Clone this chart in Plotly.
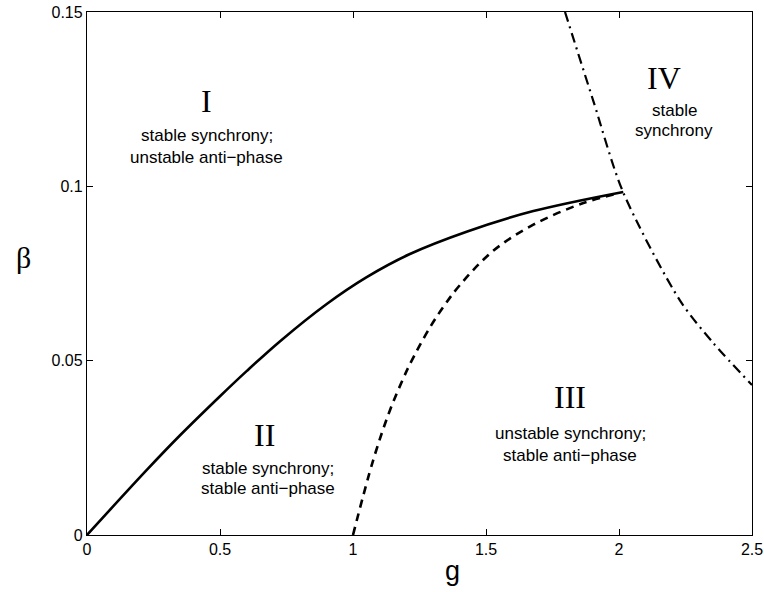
import plotly.graph_objects as go

# Boundary curves (g, beta)
solid_g = [0, 0.224, 0.35, 0.5, 0.6, 0.726, 0.9, 1.05, 1.214, 1.427, 1.678, 2.016]
solid_b = [0, 0.0186, 0.0286, 0.0398, 0.0470, 0.0556, 0.0662, 0.0739, 0.0806, 0.0870, 0.0929, 0.0984]

dashed_g = [1.0, 1.076, 1.139, 1.189, 1.214, 1.289, 1.346, 1.402, 1.527, 1.678, 1.866, 2.0]
dashed_b = [0, 0.0215, 0.0358, 0.0449, 0.0490, 0.0595, 0.0661, 0.0717, 0.0815, 0.0890, 0.0952, 0.098]

dashdot_g = [1.797, 1.903, 2.015, 2.229, 2.355, 2.5]
dashdot_b = [0.150, 0.1246, 0.0984, 0.0673, 0.055, 0.043]

x_ticks = [0, 0.5, 1, 1.5, 2, 2.5]
x_tick_labels = ["0", "0.5", "1", "1.5", "2", "2.5"]
y_ticks = [0, 0.05, 0.1, 0.15]
y_tick_labels = ["0", "0.05", "0.1", "0.15"]

region_names = ["I", "II", "III", "IV"]
region_g = [0.45, 0.669, 1.816, 2.17]
region_b = [0.1246, 0.0287, 0.0395, 0.1312]
region_text_g = [0.45, 0.68, 1.816, 2.207]
region_line1 = ["stable synchrony;", "stable synchrony;", "unstable synchrony;", "stable"]
region_line1_b = [0.1146, 0.0192, 0.0292, 0.1218]
region_line2 = ["unstable anti\u2212phase", "stable anti\u2212phase", "stable anti\u2212phase", "synchrony"]
region_line2_b = [0.1083, 0.0132, 0.0229, 0.1160]

fig = go.Figure()
fig.add_trace(go.Scatter(x=solid_g, y=solid_b, mode="lines",
                         line=dict(color="black", width=2.6, shape="spline", smoothing=1.0),
                         showlegend=False, hoverinfo="skip"))
fig.add_trace(go.Scatter(x=dashed_g, y=dashed_b, mode="lines",
                         line=dict(color="black", width=2.6, dash="8px,6px", shape="spline", smoothing=1.0),
                         showlegend=False, hoverinfo="skip"))
fig.add_trace(go.Scatter(x=dashdot_g, y=dashdot_b, mode="lines",
                         line=dict(color="black", width=2.2, dash="10px,5px,2px,5px", shape="spline", smoothing=0.8),
                         showlegend=False, hoverinfo="skip"))

annotations = []
for i in range(4):
    annotations.append(dict(x=region_g[i], y=region_b[i], text=region_names[i], showarrow=False,
                            font=dict(family="Liberation Serif", size=32, color="black"),
                            xanchor="center", yanchor="middle"))
    annotations.append(dict(x=region_text_g[i], y=region_line1_b[i], text=region_line1[i], showarrow=False,
                            font=dict(family="Liberation Sans", size=17, color="black"),
                            xanchor="center", yanchor="middle"))
    annotations.append(dict(x=region_text_g[i], y=region_line2_b[i], text=region_line2[i], showarrow=False,
                            font=dict(family="Liberation Sans", size=17, color="black"),
                            xanchor="center", yanchor="middle"))

annotations.append(dict(x=0.549, y=-0.068, xref="paper", yref="paper", text="g", showarrow=False,
                        font=dict(family="Liberation Sans", size=27, color="black"),
                        xanchor="center", yanchor="middle"))
annotations.append(dict(x=-0.096, y=0.53, xref="paper", yref="paper", text="\u03b2", showarrow=False,
                        font=dict(family="Liberation Serif", size=30, color="black"),
                        xanchor="center", yanchor="middle"))

axis_common = dict(showline=True, linecolor="black", linewidth=1.3, mirror="ticks",
                   ticks="inside", ticklen=6, tickwidth=1, tickcolor="black",
                   showgrid=False, zeroline=False, automargin=False,
                   tickfont=dict(family="Liberation Sans", size=16, color="black"))

fig.update_layout(
    width=764, height=592,
    margin=dict(l=87, r=12, t=12, b=57),
    plot_bgcolor="white", paper_bgcolor="white",
    xaxis=dict(range=[0, 2.5], tickvals=x_ticks, ticktext=x_tick_labels, **axis_common),
    yaxis=dict(range=[0, 0.15], tickvals=y_ticks, ticktext=y_tick_labels, **axis_common),
    annotations=annotations,
)

fig.write_html("out.html", config={"displayModeBar": False},
               post_script="document.body.style.margin='0px';document.body.style.overflow='hidden';")
